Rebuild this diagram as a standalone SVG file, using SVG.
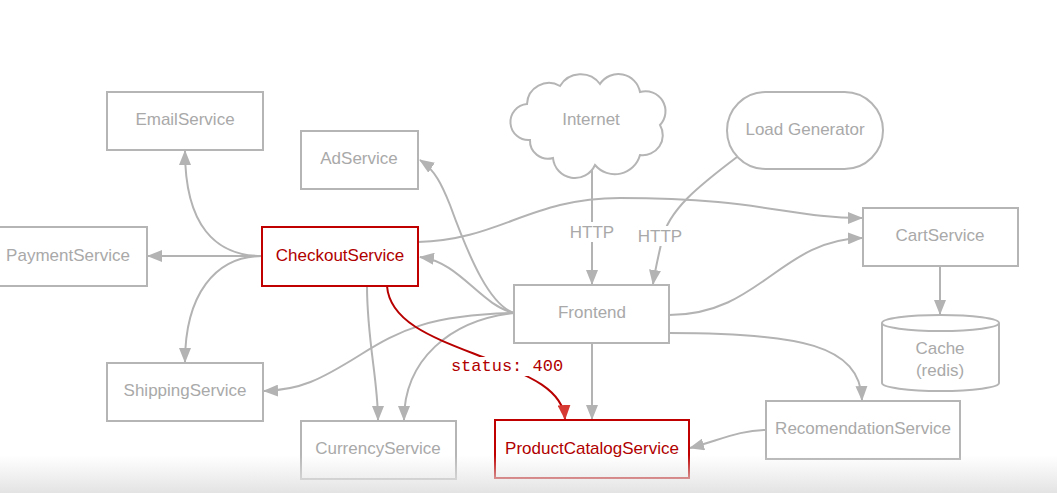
<svg xmlns="http://www.w3.org/2000/svg" width="1057" height="493" viewBox="0 0 1057 493">
<style>
.box{fill:#fff;stroke:#b5b5b5;stroke-width:2}
.rbox{fill:#fff;stroke:#c00000;stroke-width:2}
.lbl{font-family:"Liberation Sans",Arial,sans-serif;font-size:17px;fill:#a9a9a9;text-anchor:middle;dominant-baseline:central}
.rlbl{font-family:"Liberation Sans",Arial,sans-serif;font-size:17px;fill:#b00000;text-anchor:middle;dominant-baseline:central}
.mono{font-family:"Liberation Mono","Courier New",monospace;font-size:17px;fill:#b00000;text-anchor:middle;dominant-baseline:central}
.edge{fill:none;stroke:#b3b3b3;stroke-width:2;marker-end:url(#ah)}
.redge{fill:none;stroke:#b80000;stroke-width:2;marker-end:url(#rah)}
.plain{fill:none;stroke:#b3b3b3;stroke-width:2}
</style>
<defs>
<marker id="ah" markerUnits="userSpaceOnUse" markerWidth="15" markerHeight="12" refX="14" refY="6" orient="auto"><path d="M0,0 L15,6 L0,12 Z" fill="#b3b3b3"/></marker>
<marker id="rah" markerUnits="userSpaceOnUse" markerWidth="15" markerHeight="13" refX="14" refY="6.5" orient="auto"><path d="M0,0 L15,6.5 L0,13 Z" fill="#d63a32"/></marker>
<linearGradient id="fade" x1="0" y1="0" x2="0" y2="1"><stop offset="0" stop-color="#e6e6e6" stop-opacity="0"/><stop offset="1" stop-color="#e3e3e3" stop-opacity="1"/></linearGradient>
</defs>
<rect width="1057" height="493" fill="#fff"/>
<g id="connectors">
<path class="edge" d="M262,256 L148,256"/>
<path class="edge" d="M262,256 C215,256 185,225 185,151"/>
<path class="edge" d="M262,256 C215,256 185,295 185,362"/>
<path class="edge" d="M418,242 C500,240 530,198 620,198 C760,198 790,218 862,218"/>
<path class="edge" d="M367,286 C367,340 378,380 378,420"/>
<path class="edge" d="M514,313 C480,305 460,262 420,257"/>
<path class="edge" d="M514,313 C490,305 470,260 450,205 C442,185 435,170 420,160"/>
<path class="edge" d="M514,313 C430,315 400,330 360,355 C320,380 300,390 264,391"/>
<path class="edge" d="M514,313 C450,320 404,360 404,420"/>
<path class="edge" d="M669,315 C760,315 780,240 862,238"/>
<path class="edge" d="M669,333 C800,333 860,345 862,400"/>
<path class="edge" d="M592,343 L592,419"/>
<path class="edge" d="M766,430 C740,430 720,440 690,448"/>
<path class="edge" d="M940,266 L940,314"/>
<path class="edge" d="M592,169 L592,284"/>
<path class="edge" d="M737,157 C700,185 668,210 662,240 C658,258 655,270 653,284"/>
<path class="redge" d="M387,286 C390,325 440,340 490,360 C530,376 563,390 565,419"/>
<rect x="566" y="222" width="52" height="20" fill="#fff"/>
<text class="lbl" x="592" y="232">HTTP</text>
<rect x="634" y="226" width="52" height="20" fill="#fff"/>
<text class="lbl" x="660" y="236">HTTP</text>
<rect x="447" y="357" width="121" height="19" fill="#fff"/>
<text class="mono" x="507" y="366">status: 400</text>
</g>
<g id="EmailService"><rect class="box" x="107" y="92" width="156" height="58"/><text class="lbl" x="185" y="119">EmailService</text></g>
<g id="AdService"><rect class="box" x="301" y="131" width="117" height="58"/><text class="lbl" x="359" y="158">AdService</text></g>
<g id="PaymentService"><rect class="box" x="-10" y="227" width="157" height="59"/><text class="lbl" x="68" y="255">PaymentService</text></g>
<g id="CheckoutService"><rect class="rbox" x="262" y="227" width="156" height="59"/><text class="rlbl" x="340" y="255">CheckoutService</text></g>
<g id="Internet"><path class="box" d="M530,140 A18,18 0 0 1 527,104 A22,22 0 0 1 560,86 A24,24 0 0 1 600,84 A22,22 0 0 1 640,92 A20,20 0 0 1 660,125 A20,20 0 0 1 640,155 A26,26 0 0 1 595,165 A22,22 0 0 1 553,158 A18,18 0 0 1 530,140 Z"/><text class="lbl" x="591" y="119">Internet</text></g>
<g id="LoadGenerator"><rect class="box" x="727" y="92" width="156" height="77" rx="38.5"/><text class="lbl" x="805" y="129">Load Generator</text></g>
<g id="CartService"><rect class="box" x="863" y="208" width="155" height="58"/><text class="lbl" x="940" y="235">CartService</text></g>
<g id="Frontend"><rect class="box" x="514" y="285" width="155" height="58"/><text class="lbl" x="592" y="312">Frontend</text></g>
<g id="Cache"><path class="box" d="M882,323 L882,383 A58.5,8 0 0 0 999,383 L999,323"/><ellipse class="box" cx="940.5" cy="323" rx="58.5" ry="8"/><text class="lbl" x="940" y="348">Cache</text><text class="lbl" x="940" y="370">(redis)</text></g>
<g id="ShippingService"><rect class="box" x="107" y="363" width="156" height="58"/><text class="lbl" x="185" y="390">ShippingService</text></g>
<g id="CurrencyService"><rect class="box" x="301" y="421" width="155" height="58"/><text class="lbl" x="378" y="448">CurrencyService</text></g>
<g id="ProductCatalogService"><rect class="rbox" x="495" y="420" width="194" height="58"/><text class="rlbl" x="592" y="448">ProductCatalogService</text></g>
<g id="RecomendationService"><rect class="box" x="766" y="401" width="194" height="58"/><text class="lbl" x="863" y="428">RecomendationService</text></g>
<rect x="0" y="455" width="1057" height="38" fill="url(#fade)"/>
</svg>
